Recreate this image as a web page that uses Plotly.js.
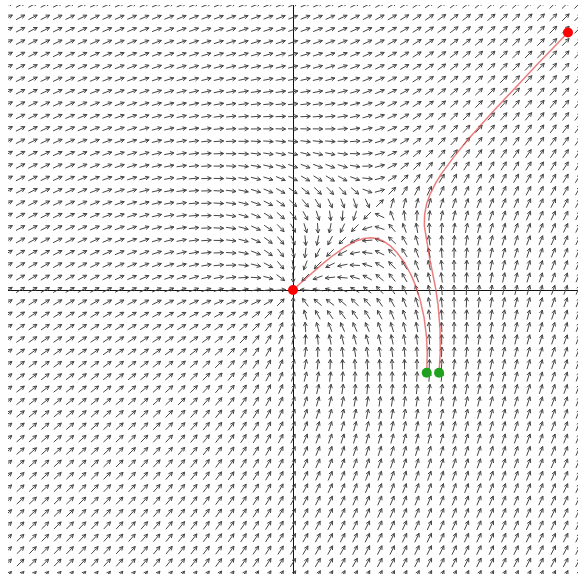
<!DOCTYPE html>
<html><head><meta charset="utf-8">
<script src="https://cdn.plot.ly/plotly-3.0.1.min.js"></script>
<style>html,body{margin:0;padding:0;background:#fff}#chart{width:579px;height:574px}</style>
</head><body><div id="chart"></div>
<script>
// System: x' = x^2 + y^2 - a*x ,  y' = x^2 + y^2 - b*y
const linearCoef = [2, 2];
// Axis extent (data units)
const xRange = [-3.421, 3.421];
const yRange = [-3.409, 3.421];
// Quiver grid (data units)
const gridMin = [-3.421, -3.421];
const gridMax = [3.421, 3.421];
const gridCount = [47, 47];
// Trajectory start points (green)
const startX = [1.605, 1.753];
const startY = [-0.993, -0.993];
const stopRadius = 4.51;
const maxTime = 25;

function field(x, y) {
  const r2 = x * x + y * y;
  return [r2 - linearCoef[0] * x, r2 - linearCoef[1] * y];
}

const pxPerUnit = 570 / (xRange[1] - xRange[0]);
const L = 10 / pxPerUnit, H = 4.2 / pxPerUnit, ang = 27 * Math.PI / 180;
const ax = [], ay = [];
for (let i = 0; i < gridCount[0]; i++) {
  const x = gridMin[0] + (gridMax[0] - gridMin[0]) * i / (gridCount[0] - 1);
  for (let j = 0; j < gridCount[1]; j++) {
    const y = gridMin[1] + (gridMax[1] - gridMin[1]) * j / (gridCount[1] - 1);
    const v = field(x, y);
    const n = Math.hypot(v[0], v[1]);
    if (n < 1e-9) continue;
    const ux = v[0] / n, uy = v[1] / n;
    const tx = x - ux * L / 2, ty = y - uy * L / 2;
    const hx = x + ux * L / 2, hy = y + uy * L / 2;
    ax.push(tx, hx, null); ay.push(ty, hy, null);
    const th = Math.atan2(uy, ux);
    ax.push(hx - H * Math.cos(th - ang), hx, hx - H * Math.cos(th + ang), null);
    ay.push(hy - H * Math.sin(th - ang), hy, hy - H * Math.sin(th + ang), null);
  }
}

function integrate(x0, y0) {
  const xs = [x0], ys = [y0];
  let x = x0, y = y0, t = 0;
  const dt = 0.001;
  while (t < maxTime) {
    const k1 = field(x, y);
    const k2 = field(x + dt / 2 * k1[0], y + dt / 2 * k1[1]);
    const k3 = field(x + dt / 2 * k2[0], y + dt / 2 * k2[1]);
    const k4 = field(x + dt * k3[0], y + dt * k3[1]);
    x += dt / 6 * (k1[0] + 2 * k2[0] + 2 * k3[0] + k4[0]);
    y += dt / 6 * (k1[1] + 2 * k2[1] + 2 * k3[1] + k4[1]);
    t += dt;
    xs.push(x); ys.push(y);
    if (Math.hypot(x, y) > stopRadius) break;
  }
  return [xs, ys];
}

const traces = [{
  x: ax, y: ay, mode: 'lines', type: 'scatter',
  line: {color: '#444444', width: 1}, hoverinfo: 'skip', showlegend: false
}];
const endX = [], endY = [];
for (let k = 0; k < startX.length; k++) {
  const p = integrate(startX[k], startY[k]);
  traces.push({x: p[0], y: p[1], mode: 'lines', type: 'scatter',
    line: {color: 'rgba(225,70,70,0.7)', width: 1.5}, showlegend: false, hoverinfo: 'skip'});
  endX.push(p[0][p[0].length - 1]); endY.push(p[1][p[1].length - 1]);
}
traces.push({x: startX, y: startY, mode: 'markers', type: 'scatter',
  marker: {color: '#1fa01f', size: 10}, showlegend: false, cliponaxis: false});
traces.push({x: endX, y: endY, mode: 'markers', type: 'scatter',
  marker: {color: '#ff0000', size: 10}, showlegend: false, cliponaxis: false});

const axisCommon = {showgrid: false, showticklabels: false, ticks: '', zeroline: true,
  zerolinecolor: '#111', zerolinewidth: 1, showline: false, fixedrange: true};
const layout = {
  width: 579, height: 574,
  margin: {l: 8, r: 1, t: 5, b: 0},
  paper_bgcolor: '#fff', plot_bgcolor: '#fff',
  xaxis: Object.assign({range: xRange}, axisCommon),
  yaxis: Object.assign({range: yRange}, axisCommon),
  showlegend: false
};
Plotly.newPlot('chart', traces, layout, {displayModeBar: false, staticPlot: true});
</script></body></html>
